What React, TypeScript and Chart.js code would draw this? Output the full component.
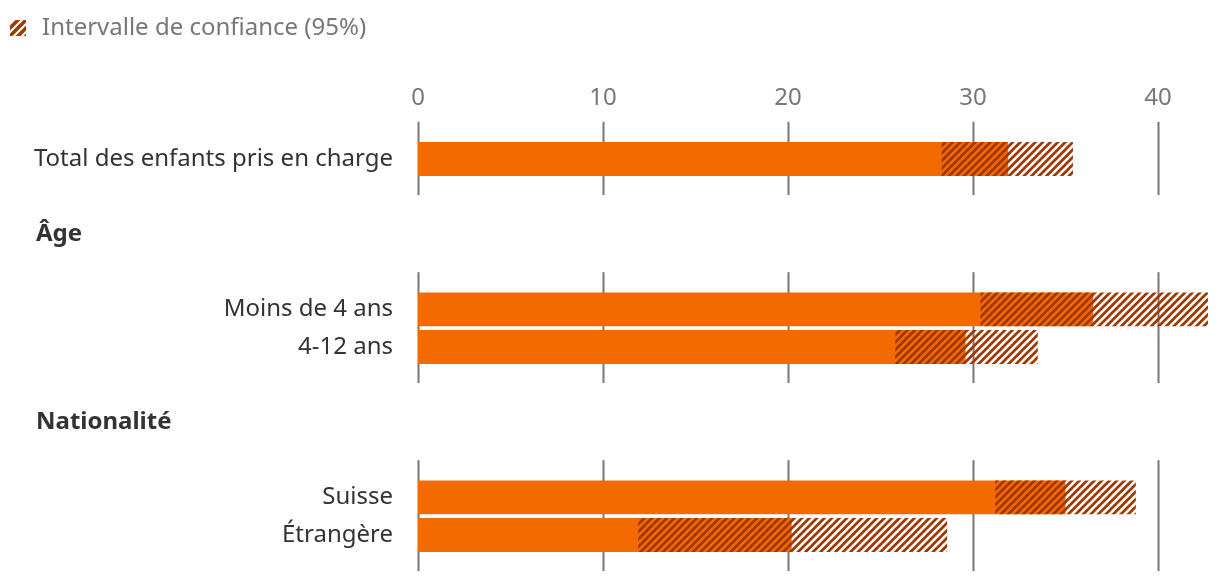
import React, { useEffect, useRef } from "react";
import { Chart, registerables } from "chart.js";

Chart.register(...registerables);

const rowLabels = [
  "Total des enfants pris en charge",
  "",
  "Âge",
  "",
  "Moins de 4 ans",
  "4-12 ans",
  "",
  "Nationalité",
  "",
  "Suisse",
  "Étrangère",
];
const headerRows = [2, 7];
const gridGroups = [
  [0, 0],
  [4, 5],
  [9, 10],
];
const values = [31.9, null, null, null, 36.5, 29.6, null, null, null, 35.0, 20.2];
const ciLow = [28.3, null, null, null, 30.4, 25.8, null, null, null, 31.2, 11.9];
const ciHigh = [35.4, null, null, null, 42.7, 33.5, null, null, null, 38.8, 28.6];
const xTicks = [0, 10, 20, 30, 40];
const xMax = 42.7;
const legendLabel = "Intervalle de confiance (95%)";

const ORANGE = "#f36a00";
const DARK = "#a03800";
const GRID = "#777777";
const FONT = "'Noto Sans', sans-serif";

function makeHatch(): CanvasPattern | string {
  const s = 15;
  const c = document.createElement("canvas");
  c.width = s;
  c.height = s;
  const g = c.getContext("2d");
  if (!g) return DARK;
  g.strokeStyle = DARK;
  g.lineWidth = 2.7;
  g.beginPath();
  for (let k = -2; k <= 3; k++) {
    const o = k * 7.5;
    g.moveTo(o - 2, s + 2);
    g.lineTo(o + s + 2, -2);
  }
  g.stroke();
  const p = g.createPattern(c, "repeat");
  return p || DARK;
}

export default function App() {
  const ref = useRef<HTMLCanvasElement | null>(null);

  useEffect(() => {
    document.body.style.margin = "0";
    const canvas = ref.current;
    if (!canvas) return;
    const hatch = makeHatch();

    const gridPlugin = {
      id: "segGrid",
      beforeDatasetsDraw(chart: any) {
        const ctx = chart.ctx;
        const xs = chart.scales.x;
        const ys = chart.scales.y;
        const pitch = ys.getPixelForValue(1) - ys.getPixelForValue(0);
        ctx.save();
        ctx.strokeStyle = GRID;
        ctx.lineWidth = 2;
        for (const [a, b] of gridGroups) {
          const y1 = ys.getPixelForValue(a) - pitch * 0.99;
          const y2 = ys.getPixelForValue(b) + pitch * 0.96;
          for (const t of xTicks) {
            const x = Math.round(xs.getPixelForValue(t)) + 0.5;
            ctx.beginPath();
            ctx.moveTo(x, y1);
            ctx.lineTo(x, y2);
            ctx.stroke();
          }
        }
        ctx.restore();
      },
      afterDraw(chart: any) {
        const ctx = chart.ctx;
        const ys = chart.scales.y;
        ctx.save();
        // group headers
        ctx.fillStyle = "#333333";
        ctx.font = `bold 24px ${FONT}`;
        ctx.textAlign = "left";
        ctx.textBaseline = "middle";
        for (const r of headerRows) {
          ctx.fillText(rowLabels[r], 36, ys.getPixelForValue(r));
        }
        // legend icon
        ctx.save();
        ctx.beginPath();
        ctx.rect(10, 20, 16, 16);
        ctx.clip();
        ctx.strokeStyle = DARK;
        ctx.lineWidth = 3.6;
        ctx.beginPath();
        for (const o of [-8, 0, 8, 16]) {
          ctx.moveTo(10 + o - 2, 38);
          ctx.lineTo(10 + o + 16 + 2, 18);
        }
        ctx.stroke();
        ctx.restore();
        // legend text
        ctx.fillStyle = "#777777";
        ctx.font = `24px ${FONT}`;
        ctx.textAlign = "left";
        ctx.textBaseline = "middle";
        ctx.fillText(legendLabel, 42, 28);
        ctx.restore();
      },
    };

    const ciData = ciLow.map((l, i) => (l == null || ciHigh[i] == null ? null : [l, ciHigh[i]]));
    const valData = values.map((v) => (v == null ? null : [0, v]));

    const chart = new Chart(canvas, {
      type: "bar",
      data: {
        labels: rowLabels,
        datasets: [
          {
            label: legendLabel,
            data: ciData as any,
            backgroundColor: hatch as any,
            borderWidth: 0,
            grouped: false,
            order: 0,
            barPercentage: 0.9,
            categoryPercentage: 1,
          },
          {
            label: "Valeur",
            data: valData as any,
            backgroundColor: ORANGE,
            borderWidth: 0,
            grouped: false,
            order: 1,
            barPercentage: 0.9,
            categoryPercentage: 1,
          },
        ],
      },
      options: {
        indexAxis: "y",
        animation: false,
        responsive: false,
        maintainAspectRatio: false,
        layout: { padding: { top: 83.4, bottom: 30.2, left: 0, right: 12 } },
        plugins: {
          legend: { display: false },
          tooltip: { enabled: false },
        },
        scales: {
          x: {
            position: "top",
            min: 0,
            max: xMax,
            grid: { display: false, drawTicks: false },
            border: { display: false },
            afterBuildTicks(scale: any) {
              scale.ticks = xTicks.map((v) => ({ value: v }));
            },
            afterFit(scale: any) {
              scale.height = 56.8;
              scale.paddingLeft = 0;
              scale.paddingRight = 0;
              scale.paddingTop = 0;
              scale.paddingBottom = 0;
            },
            ticks: {
              color: "#777777",
              font: { family: FONT, size: 24 },
              padding: 28,
            },
          },
          y: {
            grid: { display: false, drawTicks: false },
            border: { display: false },
            afterFit(scale: any) {
              scale.width = 418;
              scale.paddingTop = 0;
              scale.paddingBottom = 0;
              scale.paddingLeft = 0;
              scale.paddingRight = 0;
            },
            ticks: {
              color: "#333333",
              font: { family: FONT, size: 24 },
              padding: 25,
              autoSkip: false,
              callback: (_v: any, i: number) => (headerRows.includes(i) ? "" : rowLabels[i]),
            },
          },
        },
      },
      plugins: [gridPlugin],
    });

    return () => chart.destroy();
  }, []);

  return (
    <div style={{ width: 1220, height: 584 }}>
      <canvas ref={ref} width={1220} height={584} style={{ display: "block" }} />
    </div>
  );
}
